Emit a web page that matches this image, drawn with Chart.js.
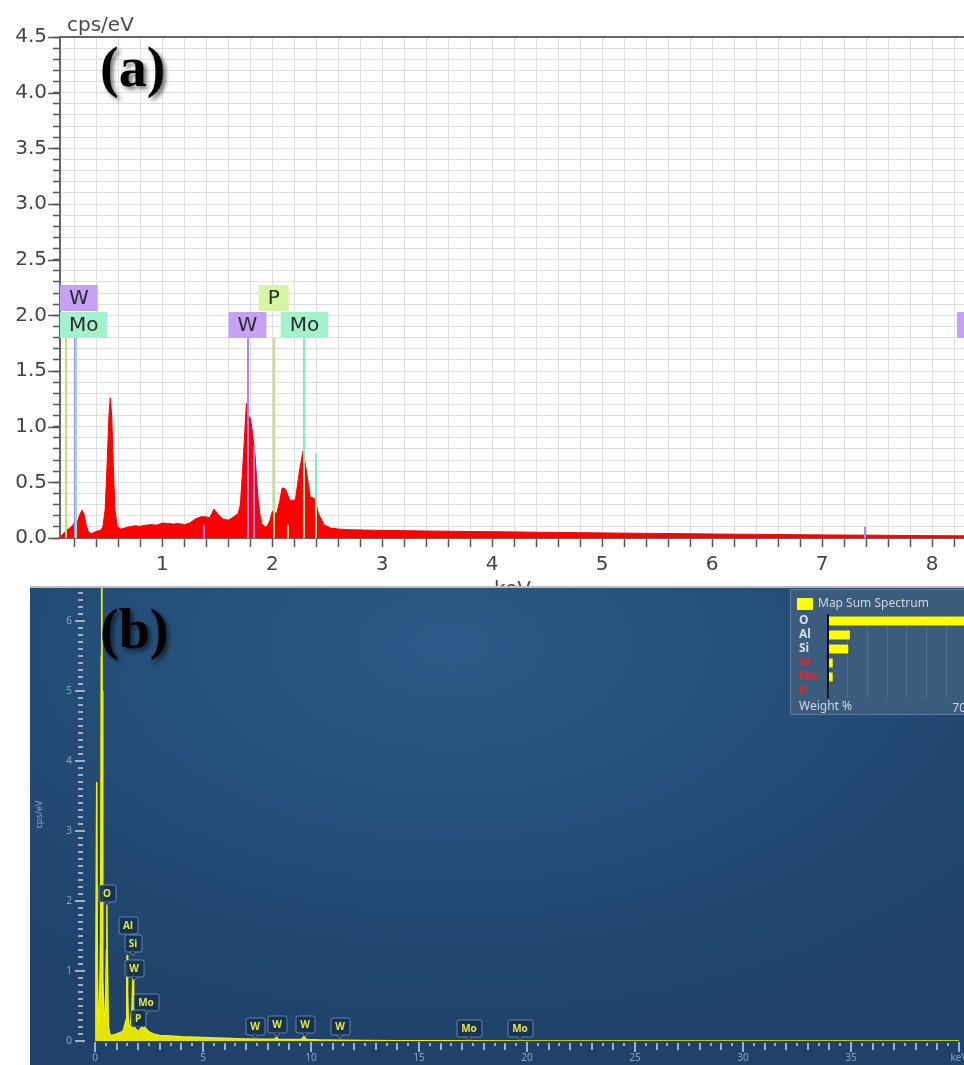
<!DOCTYPE html>
<html>
<head>
<meta charset="utf-8">
<script src="https://cdn.jsdelivr.net/npm/chart.js@4.4.0/dist/chart.umd.min.js"></script>
<style>
  html, body { margin: 0; padding: 0; background: #fff; }
  body { width: 964px; height: 1065px; position: relative; overflow: hidden; }
  #wrapA { position: absolute; left: 0; top: 0; width: 964px; height: 588px; }
  #wrapB { position: absolute; left: 30px; top: 586px; width: 934px; height: 477px;
           border-top: 2px solid #bdbdbd;
           background: radial-gradient(ellipse 75% 85% at 45% 12%, #2c5985 0%, #25507b 40%, #1f416a 100%); }
  #inset { position: absolute; left: 760px; top: 1px; width: 180px; height: 126px;
           background: #3c5c7d; border: 1px solid #5d7c9c; box-sizing: border-box; }
  .tag { position: absolute; font-family: "Liberation Serif", serif; font-weight: bold; font-size: 56px;
         line-height: 56px; color: #000; text-shadow: 3px 3px 4px rgba(0,0,0,0.55); }
  .axlab { position: absolute; font-family: "DejaVu Sans", sans-serif; font-size: 20px; line-height: 20px; color: #4a4a4a; }
</style>
</head>
<body>
<div id="wrapA">
  <canvas id="chartA" width="964" height="588"></canvas>
  <div class="axlab" style="left:67px; top:14px;">cps/eV</div>
  <div class="axlab" style="left:494px; top:578px;">keV</div>
  <div class="tag" style="left:100px; top:39px;">(a)</div>
</div>
<div id="wrapB">
  <canvas id="chartB" width="934" height="477"></canvas>
  <div id="inset"><canvas id="chartI" width="178" height="124"></canvas></div>
  <div class="tag" style="left:70px; top:13px;">(b)</div>
</div>

<script>
// ---------- panel (a): red spectrum ----------
const energyA = [
  0.07, 0.09, 0.11, 0.13, 0.16, 0.19, 0.21, 0.23, 0.25, 0.27,
  0.29, 0.31, 0.33, 0.36, 0.40, 0.44, 0.46, 0.48, 0.50, 0.515,
  0.527, 0.54, 0.555, 0.57, 0.59, 0.62, 0.66, 0.70, 0.75, 0.80,
  0.85, 0.90, 0.95, 1.00, 1.05, 1.10, 1.15, 1.20, 1.25, 1.30,
  1.35, 1.40, 1.43, 1.47, 1.50, 1.55, 1.60, 1.65, 1.69, 1.71,
  1.73, 1.75, 1.765, 1.78, 1.80, 1.82, 1.845, 1.86, 1.875, 1.89,
  1.905, 1.93, 1.95, 1.98, 2.00, 2.04, 2.07, 2.09, 2.12, 2.16,
  2.21, 2.25, 2.28, 2.31, 2.345, 2.37, 2.39, 2.42, 2.47, 2.53,
  2.60, 2.70, 2.80, 2.90, 3.0, 3.2, 3.4, 3.6, 3.8, 4.0,
  4.2, 4.4, 4.6, 4.8, 5.0, 5.25, 5.5, 5.75, 6.0, 6.25,
  6.5, 6.75, 7.0, 7.25, 7.5, 7.75, 8.0, 8.29];
const cpsA = [
  0.00, 0.03, 0.05, 0.07, 0.09, 0.12, 0.16, 0.15, 0.21, 0.25,
  0.21, 0.11, 0.05, 0.04, 0.06, 0.07, 0.10, 0.25, 0.70, 1.10,
  1.26, 1.10, 0.65, 0.25, 0.11, 0.08, 0.09, 0.10, 0.11, 0.105,
  0.115, 0.12, 0.115, 0.135, 0.13, 0.125, 0.13, 0.12, 0.135, 0.17,
  0.19, 0.19, 0.18, 0.26, 0.22, 0.17, 0.16, 0.19, 0.22, 0.30,
  0.60, 0.95, 1.21, 1.10, 1.08, 0.95, 0.73, 0.50, 0.31, 0.20,
  0.13, 0.10, 0.10, 0.16, 0.24, 0.22, 0.34, 0.45, 0.44, 0.34,
  0.34, 0.62, 0.78, 0.61, 0.37, 0.36, 0.35, 0.22, 0.12, 0.09,
  0.08, 0.075, 0.072, 0.07, 0.068, 0.066, 0.063, 0.061, 0.058, 0.057,
  0.055, 0.052, 0.05, 0.048, 0.046, 0.043, 0.041, 0.039, 0.036, 0.034,
  0.032, 0.03, 0.028, 0.026, 0.025, 0.023, 0.021, 0.02];
const xTickLabelsA = ['1', '2', '3', '4', '5', '6', '7', '8'];
const yTickLabelsA = ['0.0', '0.5', '1.0', '1.5', '2.0', '2.5', '3.0', '3.5', '4.0', '4.5'];

// element marker lines (keV, height in cps/eV)
const lineElA  = ['P', 'W', 'Mo', 'W', 'W', 'W', 'P', 'P', 'Mo', 'Mo', 'W'];
const lineKeVA = [0.127, 0.21, 0.22, 1.38, 1.775, 1.835, 2.013, 2.14, 2.293, 2.395, 7.39];
const lineTopA = [1.8, 1.8, 1.8, 0.12, 1.8, 0.82, 1.8, 0.12, 1.8, 0.76, 0.1];
// element label boxes
const labelElA  = ['W', 'Mo', 'W', 'P', 'Mo', 'W'];
const labelKeVA = [0.21, 0.22, 1.775, 2.013, 2.293, 8.398];
const labelRowA = [0, 1, 1, 0, 1, 1];

// ---------- panel (b): yellow spectrum ----------
const energyB = [0, 0.04, 0.08, 0.11, 0.15, 0.2, 0.26, 0.29, 0.31, 0.33,
  0.36, 0.42, 0.48, 0.53, 0.55, 0.57, 0.62, 0.7, 0.9, 1.1,
  1.3, 1.44, 1.47, 1.49, 1.51, 1.55, 1.62, 1.71, 1.75, 1.77,
  1.79, 1.84, 1.95, 2.05, 2.15, 2.25, 2.35, 2.5, 2.7, 3.0,
  3.5, 4, 5, 6, 7, 8, 8.3, 8.4, 8.5, 9.0,
  9.55, 9.67, 9.8, 10.5, 11.5, 12.5, 14, 16, 20, 40];
const cpsB = [0, 1.2, 3.7, 1.0, 0.25, 0.3, 1.5, 5.5, 7.5, 5.0,
  0.9, 0.3, 0.4, 1.3, 1.95, 1.2, 0.2, 0.08, 0.09, 0.11,
  0.14, 0.3, 0.9, 1.23, 0.7, 0.2, 0.2, 0.45, 0.9, 1.06,
  0.6, 0.22, 0.15, 0.17, 0.2, 0.22, 0.18, 0.13, 0.1, 0.08,
  0.07, 0.06, 0.05, 0.04, 0.03, 0.025, 0.025, 0.05, 0.025, 0.02,
  0.02, 0.06, 0.02, 0.015, 0.01, 0.008, 0.005, 0.003, 0, 0];
const xTickLabelsB = ['0', '5', '10', '15', '20', '25', '30', '35', 'keV'];
const yTickLabelsB = ['0', '1', '2', '3', '4', '5', '6'];
const labelElB  = ['O', 'Al', 'Si', 'W', 'Mo', 'P', 'W', 'W', 'W', 'W', 'Mo', 'Mo'];
const labelKeVB = [0.56, 1.52, 1.77, 1.80, 2.35, 2.0, 7.4, 8.43, 9.71, 11.34, 17.3, 19.66];
const labelCpsB = [2.11, 1.66, 1.40, 1.04, 0.56, 0.33, 0.21, 0.24, 0.24, 0.21, 0.19, 0.19];

// ---------- inset: weight % ----------
const insetEls = ['O', 'Al', 'Si', 'W', 'Mo', 'P'];
const insetWeight = [70, 11.6, 10.8, 2.9, 2.9, 0.3];
const insetMax = 70;

const elColors = {
  W:  { box: '#c7a0f7', line: '#b584ef' },
  Mo: { box: '#a3f2cd', line: '#82edbd' },
  P:  { box: '#d6f5a3', line: '#bfe673' }
};

const fontA = { family: "'DejaVu Sans', sans-serif", size: 20 };
const fontB = { family: "'Noto Sans', sans-serif", size: 10 };

// ---------- plugin for panel (a) ----------
const decoA = {
  id: 'decoA',
  afterDatasetsDraw(chart) {
    const { ctx, chartArea: ca, scales: { x, y } } = chart;
    ctx.save();
    ctx.beginPath();
    ctx.rect(ca.left, ca.top, ca.right - ca.left, ca.bottom - ca.top);
    ctx.clip();
    ctx.lineWidth = 2;
    lineKeVA.forEach((e, i) => {
      const px = Math.round(x.getPixelForValue(e));
      ctx.strokeStyle = elColors[lineElA[i]].line;
      ctx.beginPath();
      ctx.moveTo(px, y.getPixelForValue(lineTopA[i]));
      ctx.lineTo(px, y.getPixelForValue(0));
      ctx.stroke();
    });
    ctx.restore();

    // label boxes
    ctx.save();
    ctx.beginPath();
    ctx.rect(ca.left, 0, chart.width - ca.left, chart.height);
    ctx.clip();
    ctx.font = "20px 'DejaVu Sans'";
    ctx.textAlign = 'center';
    ctx.textBaseline = 'middle';
    const anchor = Math.round(y.getPixelForValue(Math.max(...lineTopA)));
    const h = 26;
    labelElA.forEach((t, i) => {
      const w = ctx.measureText(t).width + 18;
      let bx = x.getPixelForValue(labelKeVA[i]) - w / 2;
      if (bx < ca.left) bx = ca.left;
      const by = anchor - h * (2 - labelRowA[i]) - (labelRowA[i] === 0 ? 1 : 0);
      ctx.fillStyle = elColors[t].box;
      ctx.fillRect(bx, by, w, h);
      ctx.fillStyle = '#2b2b2b';
      ctx.fillText(t, bx + w / 2, by + h / 2 + 1);
    });
    ctx.restore();
  },
  afterDraw(chart) {
    const { ctx, chartArea: ca, scales: { y } } = chart;
    ctx.save();
    ctx.strokeStyle = '#666';
    ctx.lineWidth = 2;
    ctx.beginPath();
    ctx.moveTo(ca.left, ca.top);
    ctx.lineTo(ca.right, ca.top);
    ctx.stroke();
    ctx.lineWidth = 1.5;
    ctx.strokeStyle = '#555';
    for (let k = 0; k <= 45; k += 5) {
      const py = Math.round(y.getPixelForValue(k / 10)) + 0.5;
      ctx.beginPath();
      ctx.moveTo(ca.left - 12, py);
      ctx.lineTo(ca.left, py);
      ctx.stroke();
    }
    ctx.restore();
  }
};

new Chart(document.getElementById('chartA').getContext('2d'), {
  type: 'line',
  data: {
    datasets: [{
      data: energyA.map((e, i) => ({ x: e, y: cpsA[i] })),
      borderColor: '#ff0000',
      backgroundColor: '#ff0000',
      borderWidth: 1,
      pointRadius: 0,
      fill: 'origin',
      tension: 0
    }]
  },
  options: {
    responsive: false,
    animation: false,
    layout: { padding: { left: 0, right: 0, top: 37, bottom: 0 } },
    plugins: { legend: { display: false }, tooltip: { enabled: false } },
    scales: {
      x: {
        type: 'linear', min: 0.07, max: 8.29,
        afterBuildTicks: s => { s.ticks = []; for (let k = 1; k <= 41; k++) s.ticks.push({ value: k / 5 }); },
        afterFit: s => { s.height = 50; s.paddingLeft = 0; s.paddingRight = 0; },
        grid: { color: '#dedede', lineWidth: 1, tickColor: '#555', tickLength: 9, tickWidth: 1.5 },
        border: { color: '#666', width: 2 },
        ticks: {
          autoSkip: false, maxRotation: 0, padding: 6, color: '#444', font: fontA,
          callback: v => { const k = Math.round(v * 5); return k % 5 === 0 ? xTickLabelsA[k / 5 - 1] : ''; }
        }
      },
      y: {
        min: 0, max: 4.5,
        afterBuildTicks: s => { s.ticks = []; for (let k = 0; k <= 45; k++) s.ticks.push({ value: k / 10 }); },
        afterFit: s => { s.width = 60; s.paddingTop = 0; s.paddingBottom = 0; },
        grid: { color: '#dedede', lineWidth: 1, tickColor: '#555', tickLength: 7, tickWidth: 1.5 },
        border: { color: '#666', width: 2 },
        ticks: {
          autoSkip: false, padding: 6, color: '#444', font: fontA,
          callback: v => { const k = Math.round(v * 10); return k % 5 === 0 ? yTickLabelsA[k / 5] : ''; }
        }
      }
    }
  },
  plugins: [decoA]
});

// ---------- plugin for panel (b) ----------
const decoB = {
  id: 'decoB',
  afterDraw(chart) {
    const { ctx, chartArea: ca, scales: { x, y } } = chart;
    ctx.save();
    ctx.strokeStyle = '#9fb2c7';
    ctx.lineWidth = 2;
    for (let k = 0; k <= 64; k++) {
      const py = Math.round(y.getPixelForValue(k / 10));
      const major = k % 10 === 0;
      ctx.beginPath();
      ctx.moveTo(ca.left - (major ? 20 : 17), py);
      ctx.lineTo(ca.left - (major ? 10 : 12), py);
      ctx.stroke();
    }
    for (let k = 0; k <= 80; k++) {
      const px = Math.round(x.getPixelForValue(k / 2));
      let a = ca.bottom + 2, b = ca.bottom + 5;
      if (k % 10 === 0) { a = ca.bottom + 1; b = ca.bottom + 11; }
      else if (k % 2 === 0) { b = ca.bottom + 9; }
      ctx.beginPath();
      ctx.moveTo(px, a);
      ctx.lineTo(px, b);
      ctx.stroke();
    }

    // element labels
    ctx.font = "bold 10px 'Noto Sans'";
    ctx.textAlign = 'center';
    ctx.textBaseline = 'middle';
    labelElB.forEach((t, i) => {
      const cx = Math.round(x.getPixelForValue(labelKeVB[i]));
      const cy = Math.round(y.getPixelForValue(labelCpsB[i]));
      const w = Math.round(ctx.measureText(t).width + 9), h = 17;
      const bx = cx - w / 2, by = cy - h / 2;
      ctx.fillStyle = 'rgba(22,50,84,0.92)';
      ctx.strokeStyle = 'rgba(150,180,212,0.6)';
      ctx.lineWidth = 1;
      ctx.beginPath();
      if (ctx.roundRect) ctx.roundRect(bx + 0.5, by + 0.5, w, h, 2); else ctx.rect(bx + 0.5, by + 0.5, w, h);
      ctx.fill();
      ctx.stroke();
      ctx.beginPath();
      ctx.moveTo(cx - 3, by + h + 0.5);
      ctx.lineTo(cx, by + h + 4);
      ctx.lineTo(cx + 3, by + h + 0.5);
      ctx.fill();
      ctx.stroke();
      ctx.fillStyle = '#e8e838';
      ctx.fillText(t, cx, cy + 1);
    });
    ctx.restore();
  }
};

new Chart(document.getElementById('chartB').getContext('2d'), {
  type: 'line',
  data: {
    datasets: [{
      data: energyB.map((e, i) => ({ x: e, y: cpsB[i] })),
      borderColor: '#f0f000',
      backgroundColor: '#e4e400',
      borderWidth: 1.5,
      pointRadius: 0,
      fill: 'origin',
      tension: 0
    }]
  },
  options: {
    responsive: false,
    animation: false,
    layout: { padding: { left: 0, right: 5, top: 0, bottom: 0 } },
    plugins: { legend: { display: false }, tooltip: { enabled: false } },
    scales: {
      x: {
        type: 'linear', min: 0, max: 40,
        afterBuildTicks: s => { s.ticks = xTickLabelsB.map((t, i) => ({ value: i * 5 })); },
        afterFit: s => { s.height = 24; s.paddingLeft = 0; s.paddingRight = 0; },
        grid: { display: false, drawTicks: false },
        border: { display: false },
        ticks: {
          autoSkip: false, maxRotation: 0, padding: 11, color: '#8ea4bc', font: fontB,
          callback: v => xTickLabelsB[Math.round(v / 5)]
        }
      },
      y: {
        min: 0, max: 6.47,
        afterBuildTicks: s => { s.ticks = yTickLabelsB.map((t, i) => ({ value: i })); },
        afterFit: s => { s.width = 65; s.paddingTop = 0; s.paddingBottom = 0; },
        grid: { display: false, drawTicks: false },
        border: { display: false },
        title: { display: true, text: 'cps/eV', color: '#8ea4bc', font: { family: "'Noto Sans', sans-serif", size: 9 }, padding: 4 },
        ticks: {
          autoSkip: false, padding: 23, color: '#8ea4bc', font: fontB,
          callback: v => yTickLabelsB[Math.round(v)]
        }
      }
    }
  },
  plugins: [decoB]
});

// ---------- inset bar chart ----------
const insetLabelColors = ['#d6dfe8', '#d6dfe8', '#d6dfe8', '#e2262b', '#e2262b', '#e2262b'];
const decoI = {
  id: 'decoI',
  afterDraw(chart) {
    const { ctx, chartArea: ca } = chart;
    ctx.save();
    ctx.fillStyle = '#ffff00';
    ctx.fillRect(6, 8, 16, 12);
    ctx.font = "12px 'Noto Sans'";
    ctx.textBaseline = 'middle';
    ctx.textAlign = 'left';
    ctx.fillStyle = '#ccd7e2';
    ctx.fillText('Map Sum Spectrum', 27, 14);
    ctx.fillText('Weight %', 8, ca.bottom + 9);
    ctx.restore();
  }
};

new Chart(document.getElementById('chartI').getContext('2d'), {
  type: 'bar',
  data: {
    labels: insetEls,
    datasets: [{
      data: insetWeight,
      backgroundColor: '#ffff00',
      borderColor: '#45453a',
      borderWidth: 1,
      barPercentage: 0.78,
      categoryPercentage: 1
    }]
  },
  options: {
    indexAxis: 'y',
    responsive: false,
    animation: false,
    layout: { padding: { left: 8, right: 3, top: 24, bottom: 0 } },
    plugins: { legend: { display: false }, tooltip: { enabled: false } },
    scales: {
      x: {
        min: 0, max: insetMax,
        afterBuildTicks: s => { s.ticks = []; for (let v = 0; v <= insetMax; v += 10) s.ticks.push({ value: v }); },
        afterFit: s => { s.height = 16; s.paddingLeft = 0; s.paddingRight = 0; },
        grid: {
          drawTicks: false,
          color: c => (c.tick && c.tick.value === 0) ? '#111' : 'rgba(255,255,255,0.13)',
          lineWidth: c => (c.tick && c.tick.value === 0) ? 2 : 1
        },
        border: { display: false },
        ticks: {
          autoSkip: false, maxRotation: 0, padding: 3, align: 'end', color: '#ccd7e2',
          font: { family: "'Noto Sans', sans-serif", size: 12 },
          callback: v => v === insetMax ? String(insetMax) : ''
        }
      },
      y: {
        afterFit: s => { s.width = 29; s.paddingTop = 0; s.paddingBottom = 0; },
        grid: { display: false, drawTicks: false },
        border: { display: false },
        ticks: {
          autoSkip: false, crossAlign: 'far', padding: 0,
          color: c => insetLabelColors[c.index],
          font: { family: "'Noto Sans', sans-serif", size: 12, weight: 'bold' }
        }
      }
    }
  },
  plugins: [decoI]
});
</script>
</body>
</html>
